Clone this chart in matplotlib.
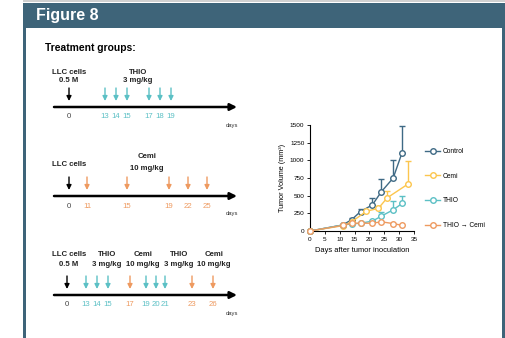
import matplotlib
matplotlib.use("Agg")
import matplotlib.pyplot as plt
import numpy as np
from matplotlib.patches import Rectangle

plt.rcParams['font.family'] = ['Liberation Sans', 'DejaVu Sans']

# tumor growth data
series_names = ["Control", "Cemi", "THIO", "THIO \u2192 Cemi"]
control_days = [0, 11, 14, 17, 21, 24, 28, 31]
control_vol = [0, 85, 160, 275, 370, 555, 750, 1110]
control_err = [0, 0, 25, 35, 100, 180, 250, 380]
cemi_days = [0, 11, 14, 19, 23, 26, 33]
cemi_vol = [0, 75, 130, 280, 320, 470, 665]
cemi_err = [0, 0, 0, 0, 35, 95, 325]
thio_days = [0, 11, 14, 17, 21, 24, 28, 31]
thio_vol = [0, 85, 100, 110, 140, 210, 300, 390]
thio_err = [0, 0, 0, 0, 0, 60, 125, 105]
combo_days = [0, 11, 14, 17, 21, 24, 28, 31]
combo_vol = [0, 80, 110, 110, 110, 130, 105, 80]

# treatment schedules
p1_days = ["0", "13", "14", "15", "17", "18", "19"]
p1_kind = ["cells", "thio", "thio", "thio", "thio", "thio", "thio"]
p2_days = ["0", "11", "15", "19", "22", "25"]
p2_kind = ["cells", "cemi", "cemi", "cemi", "cemi", "cemi"]
p3_days = ["0", "13", "14", "15", "17", "19", "20", "21", "23", "26"]
p3_kind = ["cells", "thio", "thio", "thio", "cemi", "thio", "thio", "thio", "cemi", "cemi"]

# layout (pixel x of each schedule mark)
p1_x = [69, 105, 116, 127, 149, 160, 171]
p2_x = [69, 87, 127, 169, 188, 207]
p3_x = [67, 86, 97, 108, 130, 146, 156, 165, 192, 213]

navy = "#3e6479"
c_control = "#3f6a85"
c_cemi = "#fcc64e"
c_thio = "#5cc0c5"
c_combo = "#ee9a60"
kind_color = {"cells": "black", "thio": c_thio, "cemi": c_combo}

fig = plt.figure(figsize=(5.05, 3.38), dpi=100)
bg = fig.add_axes([0, 0, 1, 1])
bg.set_xlim(0, 505)
bg.set_ylim(338, 0)
bg.axis('off')

# frame
bg.add_patch(Rectangle((23, 0), 482, 2, color="#d0d0d0", lw=0))
bg.add_patch(Rectangle((23, 2.5), 482, 25, color=navy, lw=0))
bg.add_patch(Rectangle((23, 27), 3, 311, color=navy, lw=0))
bg.add_patch(Rectangle((502, 27), 3, 311, color=navy, lw=0))
bg.text(36, 15.5, "Figure 8", color="white", fontsize=11.5, fontweight="bold", va="center")
bg.text(45, 48, "Treatment groups:", fontsize=7.4, fontweight="bold", va="center")


def timeline(y, xs, days, kinds, labels):
    bg.annotate('', xy=(237, y), xytext=(54, y),
                arrowprops=dict(arrowstyle='-|>', lw=1.8, color='black',
                                mutation_scale=10, shrinkA=0, shrinkB=0))
    for x, d, k in zip(xs, days, kinds):
        c = kind_color[k]
        bg.annotate('', xy=(x, y - 6), xytext=(x, y - 19),
                    arrowprops=dict(arrowstyle='-|>', lw=1.0, color=c,
                                    mutation_scale=7, shrinkA=0, shrinkB=0))
        bg.text(x, y + 10, d, color="#444444" if k == "cells" else c,
                fontsize=5.6, ha="center", va="center")
    bg.text(232, y + 18, "days", fontsize=4.2, ha="center", va="center", color="#333333")
    for x, ly, s in labels:
        bg.text(x, ly, s, fontsize=5.6, fontweight="bold", ha="center", va="center",
                color="#222222")


timeline(107, p1_x, p1_days, p1_kind,
         [(69, 72, "LLC cells"), (69, 81, "0.5 M"),
          (138, 72, "THIO"), (138, 81, "3 mg/kg")])
timeline(196, p2_x, p2_days, p2_kind,
         [(69, 164, "LLC cells"),
          (147, 157, "Cemi"), (147, 168, "10 mg/kg")])
timeline(295, p3_x, p3_days, p3_kind,
         [(69, 254, "LLC cells"), (69, 264, "0.5 M"),
          (107, 254, "THIO"), (107, 264, "3 mg/kg"),
          (143, 254, "Cemi"), (143, 264, "10 mg/kg"),
          (179, 254, "THIO"), (179, 264, "3 mg/kg"),
          (214, 254, "Cemi"), (214, 264, "10 mg/kg")])

# growth chart
ax = fig.add_axes([310 / 505, (338 - 231) / 338, (414 - 310) / 505, (231 - 125) / 338])
ax.set_facecolor("none")
groups = [
    (control_days, control_vol, control_err, c_control),
    (cemi_days, cemi_vol, cemi_err, c_cemi),
    (thio_days, thio_vol, thio_err, c_thio),
    (combo_days, combo_vol, None, c_combo),
]
for (d, v, e, c), name in zip(groups, series_names):
    if e is not None:
        ax.errorbar(d, v, yerr=[np.zeros(len(e)), e], fmt='none', ecolor=c,
                    elinewidth=1.0, capsize=2, capthick=1.0, zorder=2)
    ax.plot(d, v, color=c, lw=1.0, marker='o', ms=4, mfc='white', mec=c,
            mew=1.0, label=name, zorder=3, clip_on=False)

ax.set_xlim(0, 35)
ax.set_ylim(0, 1500)
ax.set_xticks(range(0, 36, 5))
ax.set_yticks(range(0, 1501, 250))
ax.tick_params(labelsize=4.6, length=2, width=0.6, pad=2)
for s in ["top", "right"]:
    ax.spines[s].set_visible(False)
for s in ["left", "bottom"]:
    ax.spines[s].set_linewidth(0.8)
ax.set_xlabel("Days after tumor inoculation", fontsize=5.4, labelpad=4)
ax.set_ylabel("Tumor Volume (mm\u00b3)", fontsize=5.2, labelpad=3)
ax.legend(loc="upper left", bbox_to_anchor=(1.05, 0.84), frameon=False, fontsize=4.8,
          handlelength=2.2, labelspacing=2.65, handletextpad=0.4)

fig.savefig("out.png", dpi=100)
